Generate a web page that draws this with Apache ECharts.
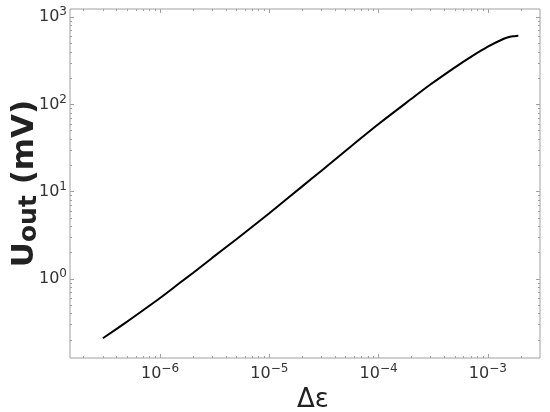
<!DOCTYPE html>
<html><head><meta charset="utf-8">
<script src="https://cdn.jsdelivr.net/npm/echarts@6/dist/echarts.min.js"></script>
<style>html,body{margin:0;padding:0;background:#fff}#c{width:550px;height:412px}</style>
</head><body><div id="c"></div>
<script>
// Data (log-log)
const strain = [3e-7, 5e-7, 7e-7, 1e-6, 1.5e-6, 2e-6, 3e-6, 5e-6, 1e-5, 2e-5, 3e-5, 5e-5, 1e-4, 2e-4, 3e-4, 5e-4, 7e-4, 1e-3, 1.4e-3, 1.6e-3, 1.75e-3, 1.9e-3];
const uout   = [0.209, 0.324, 0.437, 0.604, 0.89, 1.17, 1.74, 2.85, 5.66, 11.5, 17.4, 29.5, 59.6, 116, 170, 266, 351, 459, 566, 596, 605, 611];
const xMajor = [1e-6, 1e-5, 1e-4, 1e-3];
const yMajor = [1, 10, 100, 1000];
const xRange = [1.5e-7, 3e-3];
const yRange = [0.124, 1240];

function minorTicks(range) {
  const out = [];
  const k0 = Math.floor(Math.log10(range[0])), k1 = Math.ceil(Math.log10(range[1]));
  for (let k = k0; k <= k1; k++) {
    for (let m = 2; m <= 9; m++) {
      const v = m * Math.pow(10, k);
      if (v > range[0] && v < range[1]) out.push(v);
    }
  }
  return out;
}
const xMinor = minorTicks(xRange);
const yMinor = minorTicks(yRange);

const GRAY = '#a0a0a0';
const FONT = 'DejaVu Sans';
function powLabel(v) {
  const e = Math.round(Math.log10(v));
  return '{b|10}{s|' + (e < 0 ? '\u2212' + (-e) : e) + '}';
}
const labelRich = {
  b: {fontSize: 16, fontFamily: FONT, color: '#333'},
  s: {fontSize: 12, fontFamily: FONT, color: '#333', padding: [0, 0, 10, 0]}
};

function mkAxis(pos, range, ticks, len, extra) {
  return Object.assign({
    type: 'log', position: pos, min: range[0], max: range[1],
    axisLine: {show: false, onZero: false},
    axisTick: {show: true, inside: true, length: len, customValues: ticks, lineStyle: {color: GRAY, width: 1}},
    axisLabel: {show: false},
    splitLine: {show: false},
    minorTick: {show: false}
  }, extra || {});
}

const xAxes = [
  mkAxis('bottom', xRange, xMajor, 4, {
    axisLabel: {show: true, customValues: xMajor, formatter: powLabel, rich: labelRich, margin: 5},
    name: '\u0394\u03b5', nameLocation: 'middle', nameGap: 29,
    nameTextStyle: {fontSize: 26, fontFamily: FONT, color: '#222', padding: [0, 0, 0, 16]}
  }),
  mkAxis('bottom', xRange, xMinor, 2),
  mkAxis('top', xRange, xMajor, 4),
  mkAxis('top', xRange, xMinor, 2)
];
const yAxes = [
  mkAxis('left', yRange, yMajor, 4, {
    axisLabel: {show: true, customValues: yMajor, formatter: powLabel, rich: labelRich, margin: 3},
    name: '{u|U}{o|out}{u| (mV)}', nameLocation: 'middle', nameGap: 28, nameRotate: 90,
    nameMoveOverlap: false,
    nameTextStyle: {
      rich: {
        u: {fontSize: 31, fontWeight: 'bold', fontFamily: FONT, color: '#222'},
        o: {fontSize: 25, fontWeight: 'bold', fontFamily: FONT, color: '#222', padding: [10, 0, 0, 0]}
      }
    }
  }),
  mkAxis('left', yRange, yMinor, 2),
  mkAxis('right', yRange, yMajor, 4),
  mkAxis('right', yRange, yMinor, 2)
];

const chart = echarts.init(document.getElementById('c'), null, {renderer: 'canvas'});
chart.setOption({
  animation: false,
  backgroundColor: '#fff',
  grid: {left: 70, right: 10, top: 9, bottom: 54, containLabel: false, outerBoundsMode: 'none',
         show: true, borderColor: GRAY, borderWidth: 1},
  xAxis: xAxes,
  yAxis: yAxes,
  series: [{
    type: 'line', xAxisIndex: 0, yAxisIndex: 0,
    data: strain.map((x, i) => [x, uout[i]]),
    showSymbol: false, smooth: 0.3,
    lineStyle: {color: '#000', width: 2}
  }]
});
</script></body></html>
